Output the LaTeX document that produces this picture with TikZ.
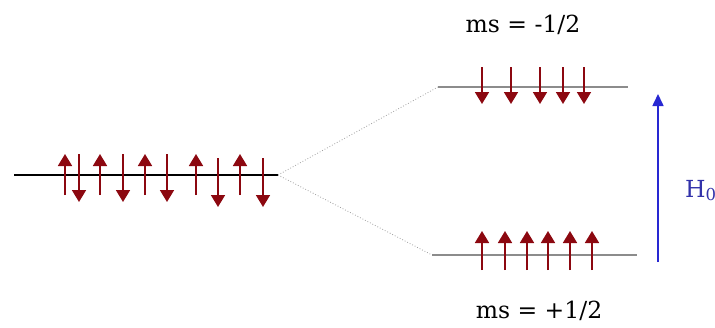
\documentclass[tikz,border=0pt]{standalone}
\usepackage{fontspec}
\setmainfont{DejaVu Serif}
\usetikzlibrary{arrows.meta}
\definecolor{spinred}{RGB}{140,8,16}
\definecolor{fieldblue}{RGB}{40,40,210}
\definecolor{labelblue}{RGB}{50,50,170}
\begin{document}
\begin{tikzpicture}[x=1pt,y=-1pt,
  spin/.style={draw=spinred,line width=1.8pt,-{Triangle[width=14pt,length=12pt]},spinred},
  level/.style={line width=2.6pt,draw=gray!90},
  link/.style={draw=gray!75,line width=0.8pt,dotted},
  lab/.style={font=\fontsize{23.5}{28}\selectfont,inner sep=0pt,anchor=base}]
  \useasboundingbox[fill=white] (0,0) rectangle (715,327);

  % degenerate level
  \coordinate (L0) at (14,175);
  \coordinate (L1) at (278,175);
  \draw[line width=1.4pt] (L0) -- (L1);

  % split levels
  \coordinate (UA) at (438,87);
  \coordinate (UB) at (628,87);
  \coordinate (DA) at (432,255);
  \coordinate (DB) at (637,255);
  \draw[link] (L1) -- (UA);
  \draw[link] (L1) -- (DA);
  \draw[level] (UA) -- (UB);
  \draw[level] (DA) -- (DB);

  % paired spins on the degenerate level
  \foreach \x in {65,100,145,196,240}
    \draw[spin] (\x,195) -- (\x,154);
  \foreach \x in {79,123,167}
    \draw[spin] (\x,154) -- (\x,202);
  \foreach \x in {218,263}
    \draw[spin] (\x,158) -- (\x,207);

  % spins on the upper level
  \foreach \x in {482,511,540,563,584}
    \draw[spin] (\x,67) -- (\x,104);

  % spins on the lower level
  \foreach \x in {482,505,527,548,570,592}
    \draw[spin] (\x,270) -- (\x,231);

  % field arrow
  \coordinate (F0) at (658,262);
  \coordinate (F1) at (658,94);
  \draw[fieldblue,line width=1.6pt,-{Triangle[width=11pt,length=12pt]}] (F0) -- (F1);
  \node[lab,anchor=base west,text=labelblue] (H) at (685,197) {H\textsubscript{0}};

  \node[lab] (mup) at (523,32) {ms = -1/2};
  \node[lab] (mdn) at (539,318) {ms = +1/2};
\end{tikzpicture}
\end{document}
